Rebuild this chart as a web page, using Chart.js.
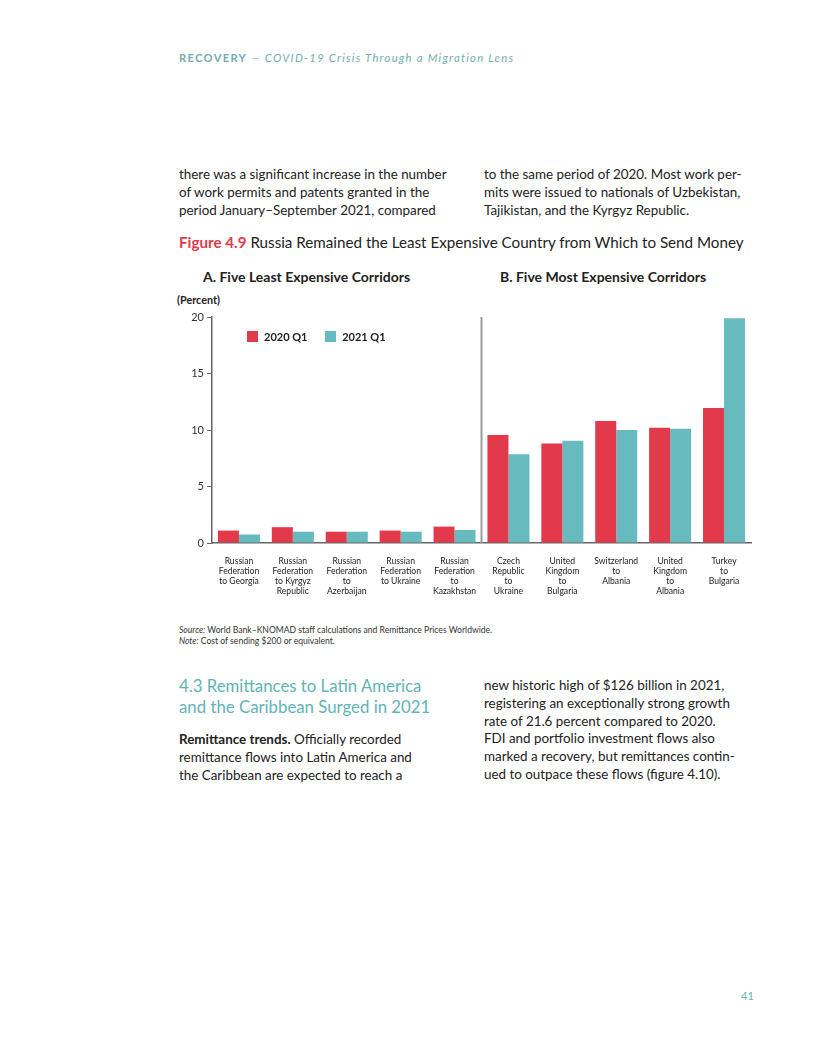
<!DOCTYPE html>
<html>
<head>
<meta charset="utf-8">
<script src="https://cdn.jsdelivr.net/npm/chart.js@4.4.1/dist/chart.umd.min.js"></script>
<style>
    body { margin: 0; background: #fff; font-family: 'Lato', sans-serif; color: #222; }
    .page { position: relative; width: 816px; height: 1056px; }
    .t { position: absolute; white-space: nowrap; }
    .body { font-size: 13.4px; line-height: 18px; color: #222; }
    .teal { color: #5fb4b6; }
    #chartBox { position: absolute; left: 160px; top: 305px; width: 600px; height: 300px; }
    .sw { display: inline-block; width: 11px; height: 11px; vertical-align: -1px; margin-right: 6px; }
</style>
</head>
<body>
<div class="page">
    <div class="t" style="left:179px; top:51px; font-size:11.2px; letter-spacing:1.3px; color:#74aeb0;">
        <b>RECOVERY</b> <i>— COVID-19 Crisis Through a Migration Lens</i>
    </div>

    <div class="t body" style="left:179px; top:165px;">
        there was a significant increase in the number<br>
        of work permits and patents granted in the<br>
        period January–September 2021, compared
    </div>
    <div class="t body" style="left:484px; top:165px;">
        to the same period of 2020. Most work per-<br>
        mits were issued to nationals of Uzbekistan,<br>
        Tajikistan, and the Kyrgyz Republic.
    </div>

    <div class="t" style="left:179px; top:233px; font-size:15.2px; line-height:18px;">
        <b style="color:#e23a4b;">Figure 4.9</b> Russia Remained the Least Expensive Country from Which to Send Money
    </div>

    <div class="t" style="left:203px; top:268px; font-size:14px; font-weight:bold;">A. Five Least Expensive Corridors</div>
    <div class="t" style="left:500px; top:268px; font-size:14px; font-weight:bold;">B. Five Most Expensive Corridors</div>
    <div class="t" style="left:177px; top:293px; font-size:10.8px; font-weight:bold;">(Percent)</div>

    <div id="chartBox"><canvas id="metricChart"></canvas></div>

    <div class="t" style="left:247px; top:330px; font-size:11px; font-weight:bold;">
        <span class="sw" style="background:#e23a4b;"></span>2020 Q1
        <span class="sw" style="background:#67bbbf; margin-left:15px;"></span>2021 Q1
    </div>

    <div class="t" style="left:179px; top:625px; font-size:8.6px; line-height:11px; color:#333;">
        <i>Source:</i> World Bank–KNOMAD staff calculations and Remittance Prices Worldwide.<br>
        <i>Note:</i> Cost of sending $200 or equivalent.
    </div>

    <div class="t teal" style="left:179px; top:675px; font-size:16.8px; line-height:21px;">
        4.3 Remittances to Latin America<br>
        and the Caribbean Surged in 2021
    </div>
    <div class="t body" style="left:179px; top:730px;">
        <b>Remittance trends.</b> Officially recorded<br>
        remittance flows into Latin America and<br>
        the Caribbean are expected to reach a
    </div>
    <div class="t body" style="left:484px; top:677px; line-height:17.8px;">
        new historic high of $126 billion in 2021,<br>
        registering an exceptionally strong growth<br>
        rate of 21.6 percent compared to 2020.<br>
        FDI and portfolio investment flows also<br>
        marked a recovery, but remittances contin-<br>
        ued to outpace these flows (figure 4.10).
    </div>

    <div class="t teal" style="left:741px; top:989px; font-size:11px;">41</div>
</div>

<script>
// corridors, least expensive five then most expensive five
const corridors = [
    ['Russian', 'Federation', 'to Georgia'],
    ['Russian', 'Federation', 'to Kyrgyz', 'Republic'],
    ['Russian', 'Federation', 'to', 'Azerbaijan'],
    ['Russian', 'Federation', 'to Ukraine'],
    ['Russian', 'Federation', 'to', 'Kazakhstan'],
    ['Czech', 'Republic', 'to', 'Ukraine'],
    ['United', 'Kingdom', 'to', 'Bulgaria'],
    ['Switzerland', 'to', 'Albania'],
    ['United', 'Kingdom', 'to', 'Albania'],
    ['Turkey', 'to', 'Bulgaria'],
];
const q1_2020 = [1.1, 1.4, 1.0, 1.1, 1.45, 9.55, 8.8, 10.8, 10.2, 11.95];
const q1_2021 = [0.75, 1.0, 1.0, 1.0, 1.15, 7.85, 9.05, 10.0, 10.1, 19.9];
const yMax = 20;
const yStep = 5;

Chart.defaults.font.family = 'Lato';

// grey line between the two panels
const panelDivider = {
    id: 'panelDivider',
    afterDatasetsDraw(chart) {
        const xs = chart.scales.x;
        const area = chart.chartArea;
        const x = (xs.getPixelForTick(4) + xs.getPixelForTick(5)) / 2;
        const ctx = chart.ctx;
        ctx.save();
        ctx.strokeStyle = '#9b9b9b';
        ctx.lineWidth = 2;
        ctx.beginPath();
        ctx.moveTo(x, area.top);
        ctx.lineTo(x, area.bottom);
        ctx.stroke();
        ctx.restore();
    }
};

const ctx = document.getElementById('metricChart').getContext('2d');
new Chart(ctx, {
    type: 'bar',
    data: {
        labels: corridors,
        datasets: [
            {
                label: '2020 Q1',
                data: q1_2020,
                backgroundColor: '#e23a4b',
                categoryPercentage: 0.78,
                barPercentage: 1.0,
            },
            {
                label: '2021 Q1',
                data: q1_2021,
                backgroundColor: '#67bbbf',
                categoryPercentage: 0.78,
                barPercentage: 1.0,
            },
        ],
    },
    options: {
        responsive: true,
        maintainAspectRatio: false,
        animation: false,
        layout: { padding: { top: 12, right: 9, left: 0, bottom: 0 } },
        plugins: {
            legend: { display: false },
            tooltip: { enabled: false },
        },
        scales: {
            x: {
                grid: { display: false },
                border: { display: true, color: '#666', width: 1.5 },
                ticks: {
                    color: '#222',
                    font: { size: 8.6, lineHeight: 1.18 },
                    maxRotation: 0,
                    autoSkip: false,
                    padding: 5,
                },
                afterFit(scale) { scale.height = 62; },
            },
            y: {
                min: 0,
                max: yMax,
                grid: { drawOnChartArea: false, color: '#666', tickLength: 5 },
                border: { display: true, color: '#666', width: 1.5 },
                ticks: {
                    stepSize: yStep,
                    color: '#333',
                    font: { size: 11 },
                    padding: 3,
                },
                afterFit(scale) { scale.width = 52; },
            },
        },
    },
    plugins: [panelDivider],
});
</script>
</body>
</html>
